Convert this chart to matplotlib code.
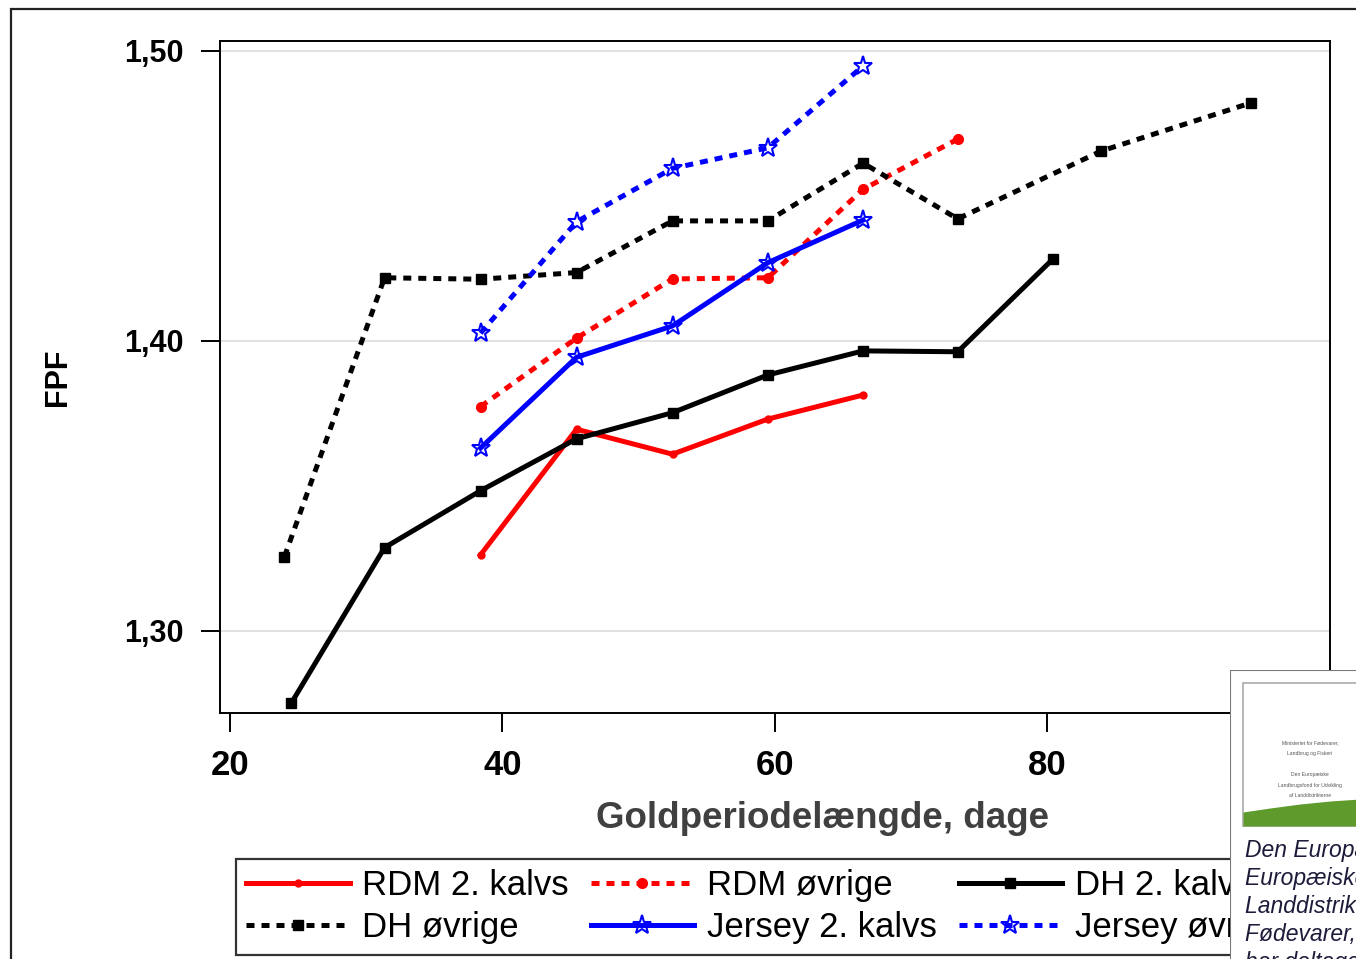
import matplotlib
matplotlib.use("Agg")
import matplotlib.pyplot as plt
from matplotlib.patches import Rectangle
from matplotlib.ticker import FuncFormatter

# data (goldperiode in days, FPF)
x_dh_ovr = [24.0, 31.35, 38.4, 45.45, 52.5, 59.5, 66.5, 73.45, 84.0, 95.0]
y_dh_ovr = [1.3256, 1.4217, 1.4212, 1.4235, 1.4413, 1.4413, 1.4612, 1.4420, 1.4654, 1.4820]
x_dh_2 = [24.5, 31.35, 38.4, 45.45, 52.5, 59.5, 66.5, 73.45, 80.45]
y_dh_2 = [1.2751, 1.3287, 1.3483, 1.3662, 1.3752, 1.3882, 1.3965, 1.3962, 1.4282]
x_rdm_2 = [38.4, 45.45, 52.5, 59.5, 66.5]
y_rdm_2 = [1.3262, 1.3695, 1.3609, 1.3730, 1.3813]
x_rdm_ovr = [38.4, 45.45, 52.5, 59.5, 66.5, 73.45]
y_rdm_ovr = [1.3773, 1.4009, 1.4213, 1.4217, 1.4522, 1.4695]
x_jer = [38.4, 45.45, 52.5, 59.5, 66.5]
y_jer_2 = [1.3630, 1.3943, 1.4051, 1.4269, 1.4416]
y_jer_ovr = [1.4026, 1.4410, 1.4594, 1.4665, 1.4947]

xticks = [20, 40, 60, 80]
yticks = [1.30, 1.40, 1.50]

plt.rcParams['font.family'] = ['Liberation Sans', 'DejaVu Sans']

W, H = 1356, 959
fig = plt.figure(figsize=(W/100, H/100), dpi=100)

# outer frame of the screenshot
fig.patches.append(Rectangle((11/W, -0.1), 1.2, 1 - 9/H + 0.1, transform=fig.transFigure,
                             fill=False, edgecolor='#222222', linewidth=1.6, zorder=1))

ax = fig.add_axes([220/W, 1 - 713/H, 1110/W, 672/H])
ax.set_xlim(19.265, 100.79)
ax.set_ylim(1.2717, 1.5033)

lw = 3.6
dot = (0, (1.6, 1.4))
l1, = ax.plot(x_rdm_2, y_rdm_2, color='#ff0000', lw=lw, marker='o', ms=5, label='RDM 2. kalvs')
l2, = ax.plot(x_rdm_ovr, y_rdm_ovr, color='#ff0000', lw=lw, ls=dot, marker='o', ms=7, label='RDM øvrige')
l3, = ax.plot(x_dh_2, y_dh_2, color='black', lw=lw, marker='s', ms=7, label='DH 2. kalvs')
l4, = ax.plot(x_dh_ovr, y_dh_ovr, color='black', lw=lw, ls=dot, marker='s', ms=7, label='DH øvrige')
l5, = ax.plot(x_jer, y_jer_2, color='#0000ff', lw=lw, marker='*', ms=14, mfc='none', mew=1.5,
              label='Jersey 2. kalvs')
l6, = ax.plot(x_jer, y_jer_ovr, color='#0000ff', lw=lw, ls=dot, marker='*', ms=14, mfc='none', mew=1.5,
              label='Jersey øvrige')

ax.set_yticks(yticks)
ax.set_xticks(xticks)
ax.yaxis.set_major_formatter(FuncFormatter(lambda v, p: f"{v:.2f}".replace('.', ',')))
ax.grid(axis='y', color='#dddddd', lw=1.2)
ax.set_axisbelow(True)
for s in ax.spines.values():
    s.set_linewidth(1.4)
ax.tick_params(axis='y', length=14, width=1.4, pad=12, labelsize=22)
ax.tick_params(axis='x', length=14, width=1.4, pad=12, labelsize=25)
for t in ax.get_xticklabels() + ax.get_yticklabels():
    t.set_fontweight('bold')

fig.text(822/W, 1 - 818/H, 'Goldperiodelængde, dage', ha='center', va='center',
         fontsize=26.5, fontweight='bold', color='#404040')
fig.text(58/W, 1 - 377/H, 'FPF', rotation=90, ha='center', va='center', fontsize=22, fontweight='bold')

# legend, filled column by column
handles = [l1, l4, l2, l5, l3, l6]
leg = fig.legend(handles=handles, labels=[h.get_label() for h in handles], ncol=3,
                 loc='upper left', bbox_to_anchor=(236/W, 1 - 859/H), borderaxespad=0,
                 fontsize=25, numpoints=1, handlelength=2.97, handletextpad=0.37,
                 columnspacing=0.63, labelspacing=0.25, borderpad=0.3, fancybox=False)
leg.get_frame().set_edgecolor('black')
leg.get_frame().set_linewidth(1.6)

# overlapping picture box in the lower right corner (pixel coordinates)
ins = fig.add_axes([1230/W, 1 - 1010/H, 200/W, 340/H])
ins.set_zorder(10)
ins.set_xlim(1230, 1430)
ins.set_ylim(1010, 670)
ins.axis('off')
ins.add_patch(Rectangle((1230, 670), 200, 340, facecolor='white', edgecolor='#777777', lw=1.5))
ins.add_patch(Rectangle((1243, 683), 200, 143, facecolor='white', edgecolor='#aaaaaa', lw=1.2))
gx = [1243, 1270, 1300, 1330, 1360, 1400]
gtop = [812, 808, 804, 801, 799, 797]
ins.fill_between(gx, gtop, 826, color='#5f9a2c', lw=0)
logo_lines = ['Ministeriet for Fødevarer,', 'Landbrug og Fiskeri', '',
              'Den Europæiske', 'Landbrugsfond for Udvikling', 'af Landdistrikterne']
for i, s in enumerate(logo_lines):
    ins.text(1310, 743 + i*10.5, s, fontsize=3.6, color='#555555', ha='center', va='center')
caption = ['Den Europæiske Union og', 'Europæiske Landbrugsfond for', 'Landdistriktsudvikling og Ministeriet for',
           'Fødevarer, Landbrug og Fiskeri', 'har deltaget i finansieringen']
for i, s in enumerate(caption):
    ins.text(1245, 851 + i*28, s, fontsize=16.5, style='italic', color='#1c1c3a', ha='left', va='center')

fig.savefig('out.png', dpi=100)
